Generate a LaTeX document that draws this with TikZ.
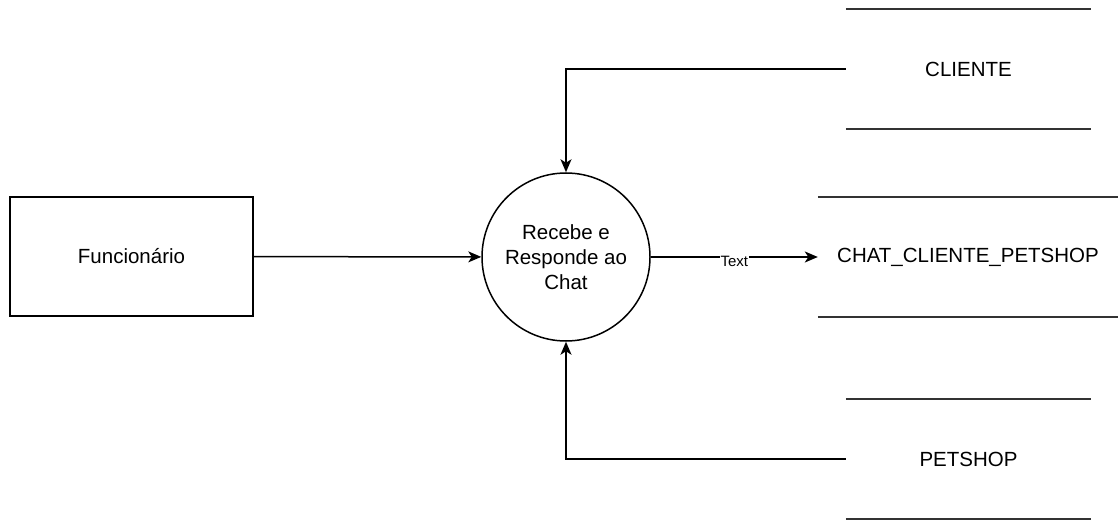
\documentclass[tikz,border=0pt]{standalone}
\usepackage{fontspec}
\setmainfont{Liberation Sans}
\usetikzlibrary{arrows.meta,positioning}
\newcommand{\dfdfont}{\fontsize{20.5}{25}\selectfont}

\begin{document}
\begin{tikzpicture}[
  x=1pt,y=-1pt,
  ent/.style={draw,line width=1.5pt,minimum width=243pt,minimum height=119pt,
    inner sep=0pt,font=\dfdfont},
  proc/.style={draw,circle,line width=1.5pt,minimum size=168pt,inner sep=0pt,
    align=center,font=\dfdfont},
  store/.style={minimum height=120pt,inner sep=0pt,font=\dfdfont},
  sline/.style={line width=1.6pt,black!80},
  a/.style={-{Stealth[length=13pt,width=11pt,inset=3.5pt]},line width=1.5pt}
]
  \useasboundingbox (0,0) rectangle (1118,521);

  \node[ent] (func) at (131.5,256.5) {Funcion\'ario};
  \node[proc] (chat) at (566,257) {Recebe e\\Responde ao\\Chat};
  \node[store,minimum width=245pt] (cli) at (968.5,69) {CLIENTE};
  \node[store,minimum width=300pt] (msgs) at (968,257) {CHAT\_CLIENTE\_PETSHOP};
  \node[store,minimum width=245pt] (pet) at (968.5,459) {PETSHOP};

  % data store edges
  \foreach \s in {cli,msgs,pet}
    \draw[sline] (\s.north west) -- (\s.north east)
                 (\s.south west) -- (\s.south east);

  \draw[a] (func) -- (chat);
  \draw[a] (chat) -- node[fill=white,inner sep=1pt,yshift=-4pt,
    font=\fontsize{15}{18}\selectfont] {Text} (msgs);
  \draw[a] (cli.west) -| (chat.north);
  \draw[a] (pet.west) -| (chat.south);
\end{tikzpicture}
\end{document}
